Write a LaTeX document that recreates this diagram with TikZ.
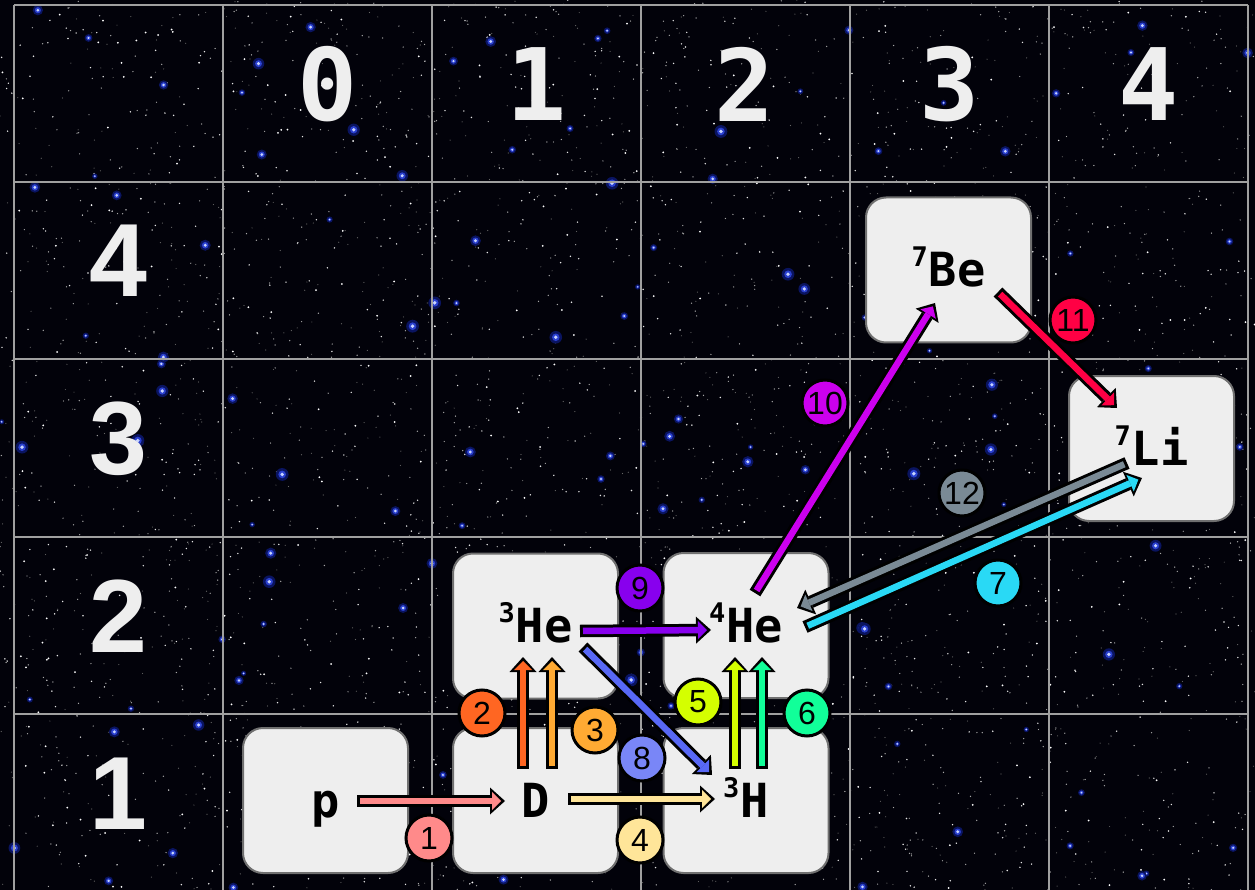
\documentclass[tikz,border=0pt]{standalone}
\usepackage{fontspec}
\setmainfont{Liberation Sans}
\newfontfamily\monof{DejaVu Sans Mono}
\usetikzlibrary{arrows.meta,calc}
\definecolor{cA}{HTML}{FF8A8A}
\definecolor{cB}{HTML}{FF6622}
\definecolor{cC}{HTML}{FFAA33}
\definecolor{cD}{HTML}{FFE599}
\definecolor{cE}{HTML}{D4FF00}
\definecolor{cF}{HTML}{11FF99}
\definecolor{cG}{HTML}{29D9F5}
\definecolor{cH}{HTML}{5868F5}
\definecolor{cI}{HTML}{8800EE}
\definecolor{cJ}{HTML}{CC00EE}
\definecolor{cK}{HTML}{FF0044}
\definecolor{cL}{HTML}{7A8A95}
\definecolor{boxfill}{HTML}{EEEEEE}
\definecolor{boxline}{HTML}{707070}
\definecolor{gridc}{HTML}{A0A0A0}
\definecolor{headc}{HTML}{EEEEEE}
\definecolor{skyc}{HTML}{02020A}
\definecolor{halo}{HTML}{0A1460}
\definecolor{glow}{HTML}{2A40D0}
\definecolor{core}{HTML}{C8D4FF}
\newcommand\nuc[2]{\raisebox{20pt}{\fontsize{27}{27}\selectfont #1}\kern1pt #2}
\newcommand\rxn[3]{\draw[shaftout] #2 -- #3; \draw[shaftin=#1] #2 -- #3;}
\tikzset{
  nucbox/.style={draw=boxline, line width=2pt, fill=boxfill, rounded corners=20pt,
    minimum width=165pt, minimum height=145pt, inner sep=0pt,
    text height=33pt, text depth=0pt,
    font=\monof\bfseries\fontsize{47}{47}\selectfont},
  gridline/.style={draw=gridc, line width=2pt},
  colhead/.style={text=headc, font=\monof\bfseries\fontsize{100}{100}\selectfont, inner sep=0pt},
  rowhead/.style={text=headc, font=\bfseries\fontsize{104}{104}\selectfont, inner sep=0pt},
  shaftout/.style={black, line width=12.5pt, -{Triangle[length=15pt,width=27pt,line width=0pt]}},
  shaftin/.style={#1, line width=6.5pt, shorten <=3pt, shorten >=4pt,
    -{Triangle[length=9pt,width=18pt,line width=0pt]}},
  lab/.style={circle, draw=black, line width=3pt, fill=#1, minimum size=46pt,
    inner sep=0pt, text=black, font=\fontsize{32}{32}\selectfont}
}
\begin{document}
\begin{tikzpicture}[x=1pt,y=-1pt]
\useasboundingbox (0,0) rectangle (1255,890);
% background
\fill[skyc] (0,0) rectangle (1255,890);
\pgfmathsetseed{7}
\fill[white!40!black] \foreach \i in {1,...,1500}{ (rnd*1255,rnd*890) circle[radius=0.6pt] };
\fill[white!65!black] \foreach \i in {1,...,1300}{ (rnd*1255,rnd*890) circle[radius=0.7pt] };
\fill[white!90!black] \foreach \i in {1,...,900}{ (rnd*1255,rnd*890) circle[radius=0.8pt] };
\fill[white] \foreach \i in {1,...,350}{ (rnd*1255,rnd*890) circle[radius=1.0pt] };
\foreach \i in {1,...,140}{
  \pgfmathsetmacro\sx{rnd*1255}\pgfmathsetmacro\sy{rnd*890}
  \pgfmathsetmacro\sr{2.5+4*rnd}
  \fill[halo] (\sx,\sy) circle[radius=\sr pt];
  \fill[glow] (\sx,\sy) circle[radius=0.6*\sr pt];
  \fill[core] (\sx,\sy) circle[radius=0.3*\sr pt];
}
% grid
\foreach \gx in {14,223,432,641,850,1049,1248}{\draw[gridline] (\gx,5) -- (\gx,890);}
\foreach \gy in {5,182,359,537,714}{\draw[gridline] (14,\gy) -- (1248,\gy);}
% headers
\node[colhead] (h0) at (328,84) {0};
\node[colhead] (h1) at (537,84) {1};
\node[colhead] (h2) at (745,84) {2};
\node[colhead] (h3) at (950,84) {3};
\node[colhead] (h4) at (1149,84) {4};
\node[rowhead] (r4) at (118,261) {4};
\node[rowhead] (r3) at (118,439) {3};
\node[rowhead] (r2) at (118,616) {2};
\node[rowhead] (r1) at (118,794) {1};
% nuclide boxes
\node[nucbox] (p)   at (325.5,800.5) {p};
\node[nucbox] (D)   at (535.5,800.5) {D};
\node[nucbox] (He3) at (535.5,626)   {\nuc{3}{He}};
\node[nucbox] (He4) at (746,625.5)   {\nuc{4}{He}};
\node[nucbox] (H3)  at (746,800.5)   {\nuc{3}{H}};
\node[nucbox] (Be7) at (948.5,270)   {\nuc{7}{Be}};
\node[nucbox] (Li7) at (1151.5,448.5){\nuc{7}{Li}};
% reactions
\rxn{cA}{($(p)+(31.5,0.5)$)}{($(D)+(-30.5,0.5)$)}
\rxn{cB}{($(D)+(-12.5,-31.5)$)}{($(He3)+(-12.5,31)$)}
\rxn{cC}{($(D)+(16.5,-31.5)$)}{($(He3)+(16.5,31)$)}
\rxn{cD}{($(D)+(32.5,-1.5)$)}{($(H3)+(-31,-1.5)$)}
\rxn{cE}{($(H3)+(-11,-31.5)$)}{($(He4)+(-11,31.5)$)}
\rxn{cF}{($(H3)+(16,-31.5)$)}{($(He4)+(16,31.5)$)}
\rxn{cG}{($(He4)+(59,1.5)$)}{($(Li7)+(-9.5,29.5)$)}
\rxn{cH}{($(He3)+(47.5,21)$)}{($(H3)+(-34,-25.5)$)}
\rxn{cI}{($(He3)+(44.5,5)$)}{($(He4)+(-35,4.5)$)}
\rxn{cJ}{($(He4)+(9,-32.5)$)}{($(Be7)+(-13.5,33)$)}
\rxn{cK}{($(Be7)+(49.5,22)$)}{($(Li7)+(-34.5,-40.5)$)}
\rxn{cL}{($(Li7)+(-24.5,14.5)$)}{($(He4)+(51,-17.5)$)}
% labels
\node[lab=cA] (l1)  at (429,838) {1};
\node[lab=cB] (l2)  at (482,713) {2};
\node[lab=cC] (l3)  at (595,730) {3};
\node[lab=cD] (l4)  at (640,840) {4};
\node[lab=cE] (l5)  at (698,702) {5};
\node[lab=cF] (l6)  at (807,713) {6};
\node[lab=cG] (l7)  at (998,583) {7};
\node[lab=cH!80!white] (l8)  at (642,758) {8};
\node[lab=cI] (l9)  at (640,588) {9};
\node[lab=cJ] (l10) at (825,403) {10};
\node[lab=cK] (l11) at (1073,320) {11};
\node[lab=cL] (l12) at (962,493) {12};
\end{tikzpicture}
\end{document}
